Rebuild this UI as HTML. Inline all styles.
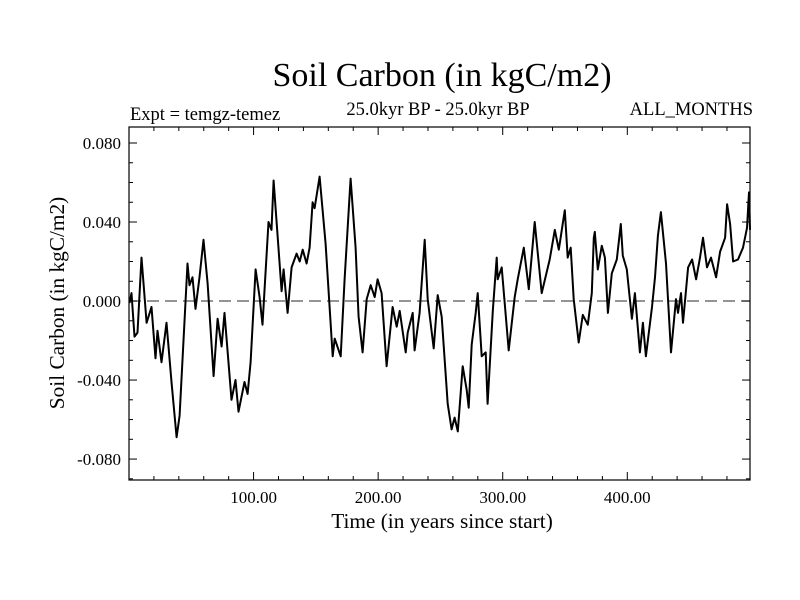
<!DOCTYPE html>
<html><head><meta charset="utf-8"><style>
body{margin:0;background:#fff;}
svg{display:block;font-family:"Liberation Serif",serif;}
</style></head><body>
<svg id="chart" width="800" height="600">
<text x="442" y="86" font-size="34" text-anchor="middle">Soil Carbon (in kgC/m2)</text>
<text x="130" y="120" font-size="18.5">Expt = temgz-temez</text>
<text x="438" y="115" font-size="18.5" text-anchor="middle">25.0kyr BP - 25.0kyr BP</text>
<text x="753" y="115" font-size="18.5" text-anchor="end">ALL_MONTHS</text>
<text x="442" y="528" font-size="21.3" text-anchor="middle">Time (in years since start)</text>
<text transform="translate(64,303) rotate(-90)" font-size="21.3" text-anchor="middle">Soil Carbon (in kgC/m2)</text>
<g id="axes"></g>
</svg>
<script>
const years=[0.4,2.0,4.4,6.8,10.0,14.1,18.1,21.3,22.9,26.1,30.1,34.1,38.2,40.6,47.0,48.6,51.0,53.4,56.6,59.8,63.1,67.9,71.1,74.3,76.7,82.3,85.5,87.9,92.7,95.2,97.6,101.6,104.8,107.2,112.0,114.4,116.1,120.1,122.5,124.1,127.3,130.5,134.5,137.0,139.4,142.6,145.0,147.4,149.0,153.0,157.8,163.5,165.1,169.9,173.1,177.9,181.9,184.3,187.5,190.8,194.0,197.2,199.6,202.8,206.8,211.6,214.9,217.3,222.1,223.7,227.7,229.3,233.3,237.4,239.8,244.6,247.8,251.0,255.8,259.0,261.4,263.9,267.9,271.1,272.7,275.1,278.3,279.9,283.1,286.3,287.9,292.0,295.2,296.0,299.2,304.8,309.6,312.0,316.9,320.9,325.7,331.3,337.7,341.8,345.0,349.8,352.2,354.6,357.0,361.0,364.3,368.3,371.5,373.1,373.9,376.3,379.5,382.0,384.4,387.6,391.6,394.8,396.4,399.6,403.7,406.1,410.1,412.5,414.9,419.8,422.2,424.6,427.0,431.1,435.1,439.1,440.7,443.1,444.7,448.8,452.0,455.2,458.4,460.8,464.0,467.2,471.3,474.5,478.5,480.1,482.5,484.9,488.9,492.9,496.1,497.7,498.5];
const values=[-0.001,0.004,-0.018,-0.016,0.022,-0.011,-0.003,-0.029,-0.015,-0.031,-0.011,-0.041,-0.069,-0.058,0.019,0.008,0.012,-0.004,0.012,0.031,0.009,-0.038,-0.009,-0.023,-0.006,-0.050,-0.040,-0.056,-0.041,-0.047,-0.031,0.016,0.002,-0.012,0.040,0.036,0.061,0.026,0.005,0.016,-0.006,0.017,0.024,0.020,0.026,0.019,0.027,0.050,0.047,0.063,0.029,-0.028,-0.019,-0.028,0.011,0.062,0.027,-0.008,-0.026,0.001,0.008,0.002,0.011,0.004,-0.033,-0.003,-0.013,-0.005,-0.026,-0.016,-0.006,-0.025,-0.006,0.031,0.001,-0.024,0.003,-0.008,-0.052,-0.065,-0.059,-0.066,-0.033,-0.045,-0.054,-0.022,-0.006,0.004,-0.028,-0.026,-0.052,-0.005,0.022,0.011,0.017,-0.025,0.002,0.011,0.027,0.006,0.040,0.004,0.021,0.036,0.026,0.046,0.022,0.027,0.001,-0.021,-0.007,-0.012,0.004,0.032,0.035,0.016,0.028,0.022,-0.006,0.014,0.021,0.039,0.023,0.016,-0.009,0.004,-0.026,-0.011,-0.028,-0.003,0.012,0.033,0.045,0.019,-0.026,0.001,-0.006,0.004,-0.011,0.017,0.021,0.011,0.022,0.032,0.017,0.022,0.012,0.025,0.032,0.049,0.039,0.020,0.021,0.027,0.037,0.055,0.036];
const xTickLabels=["100.00","200.00","300.00","400.00"];
const xTickValues=[100,200,300,400];
const yTickLabels=["0.080","0.040","0.000","-0.040","-0.080"];
const yTickValues=[0.08,0.04,0,-0.04,-0.08];

const L=129,R=750,T=127,B=480;
const X0=0,X1=498.5,Y0=-0.0906,Y1=0.0881;
function sx(v){return L+(v-X0)/(X1-X0)*(R-L);}
function sy(v){return B-(v-Y0)/(Y1-Y0)*(B-T);}
const NS="http://www.w3.org/2000/svg";
const g=document.getElementById('axes');
function mk(tag,attrs){const e=document.createElementNS(NS,tag);for(const k in attrs)e.setAttribute(k,attrs[k]);g.appendChild(e);return e;}

const z=mk('line',{x1:L,x2:R,y1:sy(0),y2:sy(0),stroke:'#555','stroke-width':1.3,'stroke-dasharray':'12,6'});



const fr=mk('rect',{x:L,y:T,width:R-L,height:B-T,fill:'none',stroke:'#000','stroke-width':1.2});



for(let v=20;v<X1;v+=20){
  const major=v%100===0;const len=major?8:4;const x=sx(v);
  const t1=mk('line',{x1:x,x2:x,y1:B,y2:B-len,stroke:'#000','stroke-width':1});
  
  
  const t2=mk('line',{x1:x,x2:x,y1:T,y2:T+len,stroke:'#000','stroke-width':1});
  
  
}
xTickValues.forEach((v,i)=>{
  const t=mk('text',{x:sx(v),y:B+23,'font-size':17,'text-anchor':'middle'});
  t.textContent=xTickLabels[i];
  
  
});
for(let k=-9;k<=10;k++){
  const v=k*0.01;if(v<Y0||v>Y1)continue;
  const major=k%4===0;const len=major?8:4;const y=sy(v);
  const t1=mk('line',{x1:L,x2:L+len,y1:y,y2:y,stroke:'#000','stroke-width':1});
  
  
  const t2=mk('line',{x1:R,x2:R-len,y1:y,y2:y,stroke:'#000','stroke-width':1});
  
  
}
yTickValues.forEach((v,i)=>{
  const t=mk('text',{x:L-8,y:sy(v)+6,'font-size':17,'text-anchor':'end'});
  t.textContent=yTickLabels[i];
  
  
});
const d=years.map((yr,i)=>(i?'L':'M')+sx(yr).toFixed(1)+','+sy(values[i]).toFixed(1)).join('');
const p=mk('path',{d:d,fill:'none',stroke:'#000','stroke-width':2,'stroke-linejoin':'round'});


</script>
</body></html>
